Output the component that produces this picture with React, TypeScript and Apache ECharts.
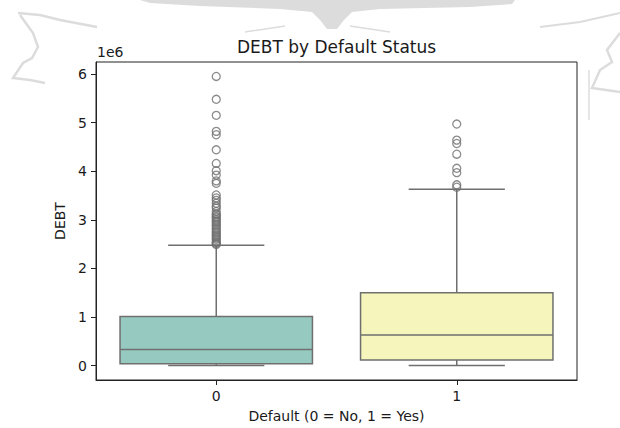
import React, { useEffect, useRef } from "react";
import * as echarts from "echarts";

const categories = ["0", "1"];
// values in units of 1e6
const mins = [0, 0];
const q1s = [0.037, 0.113];
const medians = [0.332, 0.631];
const q3s = [1.008, 1.5];
const maxs = [2.475, 3.631];
const outliers0 = [
  5.95, 5.48, 5.15, 4.82, 4.75, 4.44, 4.16, 4.01, 3.92, 3.8, 3.75, 3.51, 3.45, 3.4, 3.34, 3.28,
  3.24, 3.17, 3.12, 3.1, 3.06, 3.04, 3.0, 2.97, 2.94, 2.9, 2.87, 2.83, 2.8, 2.76, 2.73, 2.69,
  2.66, 2.63, 2.6, 2.56, 2.53, 2.51, 2.49,
];
const outliers1 = [4.97, 4.64, 4.57, 4.35, 4.06, 3.97, 3.72, 3.67];
const yTicks = [0, 1, 2, 3, 4, 5, 6];
const boxColors = ["#96cac1", "#f6f6bc"];

const LINE = "#6f6f6f";
const FONT = "DejaVu Sans";
const WM = "#dcdcdc";
const TXT = "#1a1a1a";

export default function App() {
  const ref = useRef<HTMLDivElement>(null);
  useEffect(() => {
    if (!ref.current) return;
    const chart = echarts.init(ref.current, undefined, { renderer: "svg" });
    const boxData = categories.map((_, i) => [i, mins[i], q1s[i], medians[i], q3s[i], maxs[i]]);
    const outlierData: number[][] = [
      ...outliers0.map((v) => [0, v]),
      ...outliers1.map((v) => [1, v]),
    ];
    chart.setOption({
      animation: false,
      backgroundColor: "#ffffff",
      textStyle: { fontFamily: FONT },
      grid: {
        left: 96,
        right: 43,
        top: 62,
        bottom: 47,
        show: true,
        borderColor: "#222",
        borderWidth: 1,
        backgroundColor: "transparent",
      },
      xAxis: {
        type: "category",
        data: categories,
        boundaryGap: true,
        name: "Default (0 = No, 1 = Yes)",
        nameLocation: "middle",
        nameGap: 29,
        nameTextStyle: { fontSize: 14, color: TXT, fontFamily: FONT },
        axisLine: { show: true, onZero: false, lineStyle: { color: "#222", width: 1 } },
        axisTick: { show: true, alignWithLabel: true, length: 5, lineStyle: { color: "#222" } },
        axisLabel: { fontSize: 14, color: TXT, margin: 9, fontFamily: FONT },
        splitLine: { show: false },
      },
      yAxis: {
        type: "value",
        min: -0.2975,
        max: 6.2475,
        name: "DEBT",
        nameLocation: "middle",
        nameGap: 29,
        nameTextStyle: { fontSize: 14, color: TXT, fontFamily: FONT },
        axisLine: { show: true, onZero: false, lineStyle: { color: "#222", width: 1 } },
        axisTick: { show: true, length: 5, lineStyle: { color: "#222" }, customValues: yTicks },
        axisLabel: {
          fontSize: 14,
          color: TXT,
          margin: 9,
          fontFamily: FONT,
          customValues: yTicks,
          formatter: (v: number) => String(Math.round(v)),
        },
        splitLine: { show: false },
      },
      graphic: [
        {
          type: "polygon",
          silent: true,
          shape: {
            points: [
              [140, 0], [515, 0], [512, 4], [470, 7], [380, 9], [352, 12], [344, 20], [337, 29],
              [327, 29], [320, 20], [312, 12], [280, 9], [200, 6], [150, 3],
            ],
          },
          style: { fill: WM },
        },
        {
          type: "polyline",
          silent: true,
          shape: { points: [[18, 13], [40, 15], [60, 20], [97, 27]] },
          style: { stroke: WM, lineWidth: 2.5, fill: "none" },
        },
        {
          type: "polyline",
          silent: true,
          shape: {
            points: [[20, 15], [33, 33], [38, 47], [32, 58], [23, 63], [17, 72], [13, 78], [30, 80], [45, 83]],
          },
          style: { stroke: WM, lineWidth: 2.5, fill: "none" },
        },
        {
          type: "polyline",
          silent: true,
          shape: { points: [[245, 32], [285, 26]] },
          style: { stroke: WM, lineWidth: 1.5, fill: "none" },
        },
        {
          type: "polyline",
          silent: true,
          shape: { points: [[350, 26], [390, 32]] },
          style: { stroke: WM, lineWidth: 1.5, fill: "none" },
        },
        {
          type: "polyline",
          silent: true,
          shape: { points: [[540, 27], [580, 22], [620, 13]] },
          style: { stroke: WM, lineWidth: 2, fill: "none" },
        },
        {
          type: "polyline",
          silent: true,
          shape: { points: [[620, 33], [607, 50], [612, 62], [600, 70], [592, 88], [620, 92]] },
          style: { stroke: WM, lineWidth: 2.5, fill: "none" },
        },
        {
          type: "polyline",
          silent: true,
          shape: { points: [[589, 70], [589, 120]] },
          style: { stroke: WM, lineWidth: 1.5, fill: "none" },
        },
        {
          type: "text",
          silent: true,
          x: 336.5,
          y: 47,
          style: {
            text: "DEBT by Default Status",
            fontSize: 17,
            fontFamily: FONT,
            fill: TXT,
            align: "center",
            verticalAlign: "middle",
          },
        },
        {
          type: "text",
          silent: true,
          x: 97,
          y: 52,
          style: {
            text: "1e6",
            fontSize: 14,
            fontFamily: FONT,
            fill: TXT,
            align: "left",
            verticalAlign: "middle",
          },
        },
      ],
      series: [
        {
          type: "custom",
          data: boxData,
          encode: { x: 0, y: [1, 2, 3, 4, 5] },
          z: 2,
          renderItem: (params: any, api: any) => {
            const x = api.value(0);
            const pMin = api.coord([x, api.value(1)]);
            const pQ1 = api.coord([x, api.value(2)]);
            const pMed = api.coord([x, api.value(3)]);
            const pQ3 = api.coord([x, api.value(4)]);
            const pMax = api.coord([x, api.value(5)]);
            const bw = api.size([1, 0])[0] * 0.8;
            const cw = bw / 2;
            const cx = pMed[0];
            const ls = { stroke: LINE, lineWidth: 1.5 };
            return {
              type: "group",
              children: [
                { type: "line", shape: { x1: cx, y1: pQ3[1], x2: cx, y2: pMax[1] }, style: ls },
                { type: "line", shape: { x1: cx, y1: pQ1[1], x2: cx, y2: pMin[1] }, style: ls },
                { type: "line", shape: { x1: cx - cw / 2, y1: pMax[1], x2: cx + cw / 2, y2: pMax[1] }, style: ls },
                { type: "line", shape: { x1: cx - cw / 2, y1: pMin[1], x2: cx + cw / 2, y2: pMin[1] }, style: ls },
                {
                  type: "rect",
                  shape: { x: cx - bw / 2, y: pQ3[1], width: bw, height: pQ1[1] - pQ3[1] },
                  style: { fill: boxColors[x], stroke: LINE, lineWidth: 1.5 },
                },
                { type: "line", shape: { x1: cx - bw / 2, y1: pMed[1], x2: cx + bw / 2, y2: pMed[1] }, style: ls },
              ],
            };
          },
        },
        {
          type: "scatter",
          data: outlierData,
          z: 3,
          symbol: "circle",
          symbolSize: 8,
          itemStyle: { color: "rgba(0,0,0,0)", borderColor: LINE, borderWidth: 1.3 },
        },
      ],
    });
    return () => chart.dispose();
  }, []);
  return <div ref={ref} style={{ width: 620, height: 428, position: "absolute", left: 0, top: 0 }} />;
}
